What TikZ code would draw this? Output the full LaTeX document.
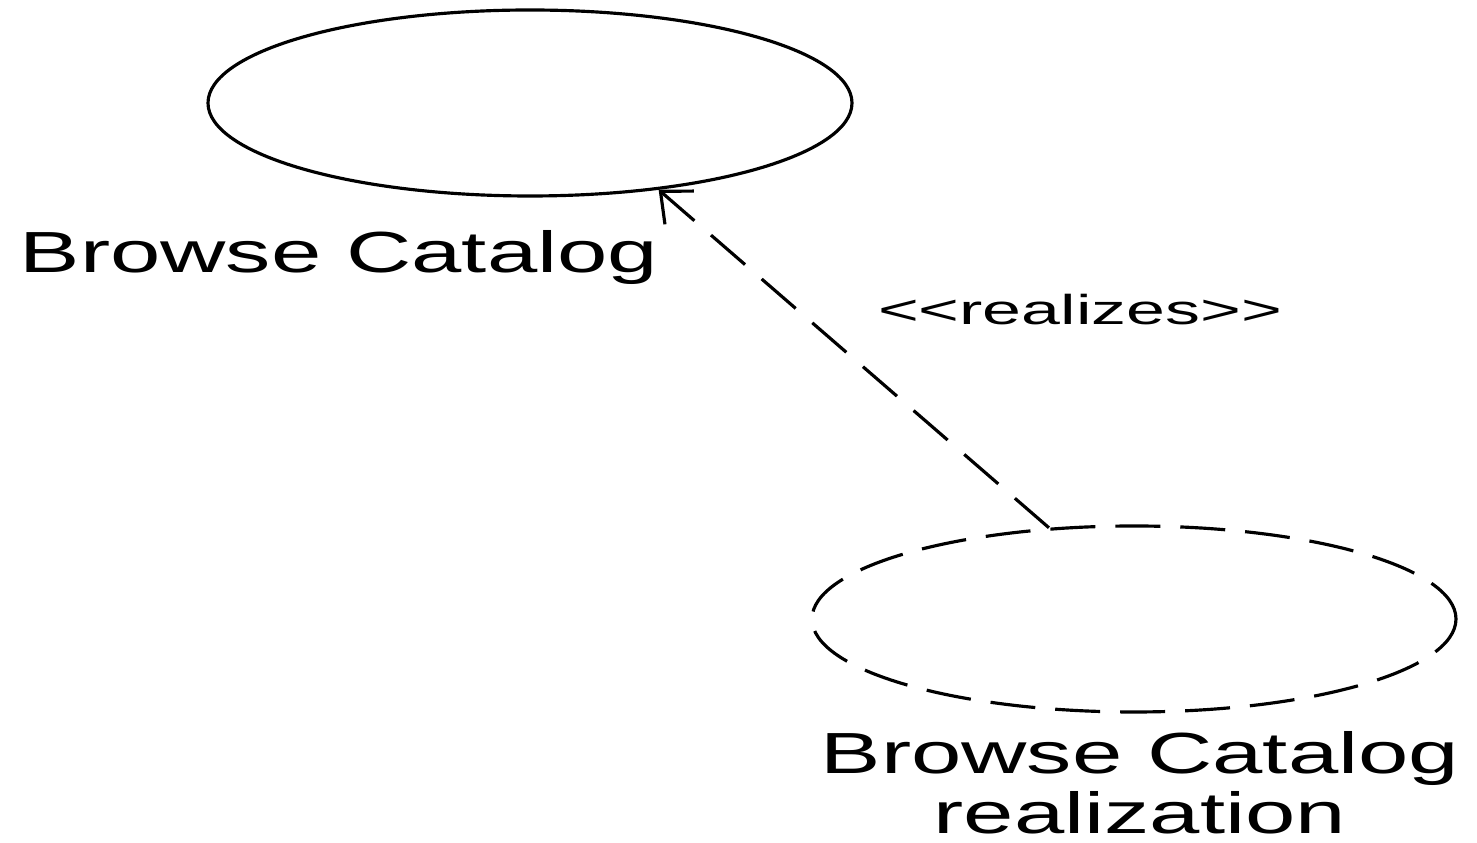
\documentclass[tikz,border=0pt]{standalone}
\usepackage{fontspec}
\setmainfont{Liberation Sans}
\usetikzlibrary{shapes.geometric,arrows.meta}

\begin{document}
\begin{tikzpicture}[
    usecase/.style={ellipse,draw,line width=0.9pt,minimum width=6.44cm,
      minimum height=1.86cm,inner sep=0pt},
    ucname/.style={font=\fontsize{16.5}{17.1}\selectfont,xscale=1.56,
      inner sep=0pt,anchor=base,align=center},
    stereo/.style={font=\fontsize{11.9}{13}\selectfont,xscale=1.67,
      inner sep=0pt,anchor=base},
    realize/.style={line width=0.9pt,dash pattern=on 0.45cm off 0.22cm,
      -{Straight Barb[length=0.25cm,width=0.44cm,line width=0.9pt]}}]
    \useasboundingbox (0,0) rectangle (14.77,8.43);

    \node[usecase] (browse) at (5.30,7.40) {};
    \node[ucname] (browsename) at (3.39,5.70) {Browse Catalog};

    \node[usecase,dash pattern=on 0.45cm off 0.2cm] (realiz) at (11.34,2.24) {};
    \node[ucname] (realizname) at (11.40,0.09) {Browse Catalog\\realization};

    \draw[realize] (realiz.133) -- (browse.-34);
    \node[stereo] (realizes) at (10.80,5.18) {<{}<realizes>{}>};
\end{tikzpicture}
\end{document}
